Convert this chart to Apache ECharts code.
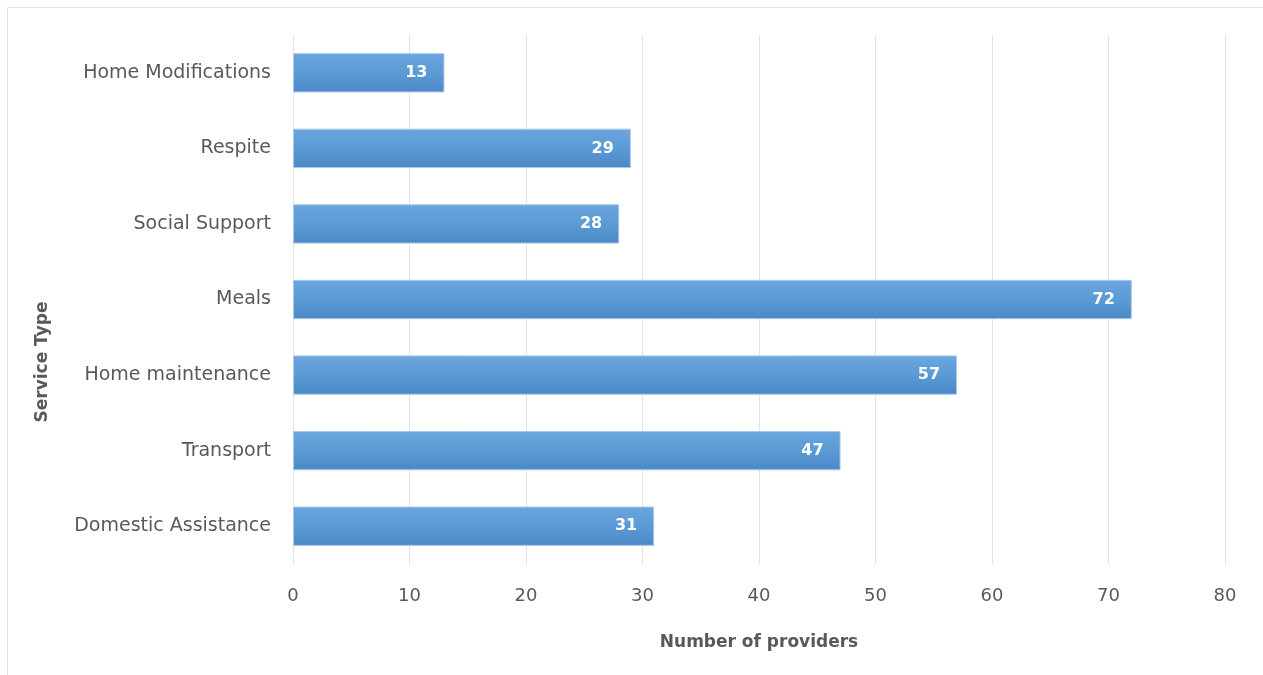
<!DOCTYPE html>
<html><head><meta charset="utf-8">
<script src="https://cdn.jsdelivr.net/npm/echarts@6/dist/echarts.min.js"></script>
<style>html,body{margin:0;padding:0;background:#fff}#c{width:1263px;height:675px}</style>
</head><body><div id="c"></div>
<script>
var categories = ["Home Modifications","Respite","Social Support","Meals","Home maintenance","Transport","Domestic Assistance"];
var providers = [13,29,28,72,57,47,31];
var xTicks = {min:0,max:80,interval:10};
var xTitle = "Number of providers";
var yTitle = "Service Type";

var chart = echarts.init(document.getElementById('c'));
var FONT = "'DejaVu Sans', 'Liberation Sans', sans-serif";
chart.setOption({
  animation:false,
  graphic:[
    {type:'rect',shape:{x:7.5,y:7.5,width:1270,height:700},style:{fill:'none',stroke:'#dde1ea',lineWidth:1},silent:true},
    {type:'text',x:43,y:362,rotation:Math.PI/2,style:{text:yTitle,fill:'#595959',font:"bold 17px 'DejaVu Sans', sans-serif",align:'center',verticalAlign:'middle'},silent:true}
  ],
  grid:{left:293,right:38,top:35,bottom:111,containLabel:false},
  xAxis:{type:'value',min:xTicks.min,max:xTicks.max,interval:xTicks.interval,
    name:xTitle,nameLocation:'middle',nameGap:70,
    nameTextStyle:{color:'#595959',fontSize:17,fontWeight:'bold',fontFamily:FONT},
    axisLine:{show:false},axisTick:{show:false},
    axisLabel:{color:'#595959',fontSize:18,margin:23,fontFamily:FONT},
    splitLine:{lineStyle:{color:'#e0e3eb',width:1}}},
  yAxis:{type:'category',data:categories,inverse:true,
    axisLine:{show:false},axisTick:{show:false},
    axisLabel:{color:'#595959',fontSize:19,margin:22,fontFamily:FONT}},
  series:[{type:'bar',data:providers,barCategoryGap:'48%',
    itemStyle:{color:new echarts.graphic.LinearGradient(0,0,0,1,[
      {offset:0,color:'#6ba5de'},{offset:0.5,color:'#5b9bd5'},{offset:1,color:'#4a88c7'}]),
      borderColor:'#a9c8ea',borderWidth:1},
    label:{show:true,position:'insideRight',distance:17,color:'#ffffff',fontSize:16,fontWeight:'bold',fontFamily:FONT}}]
});
</script></body></html>
